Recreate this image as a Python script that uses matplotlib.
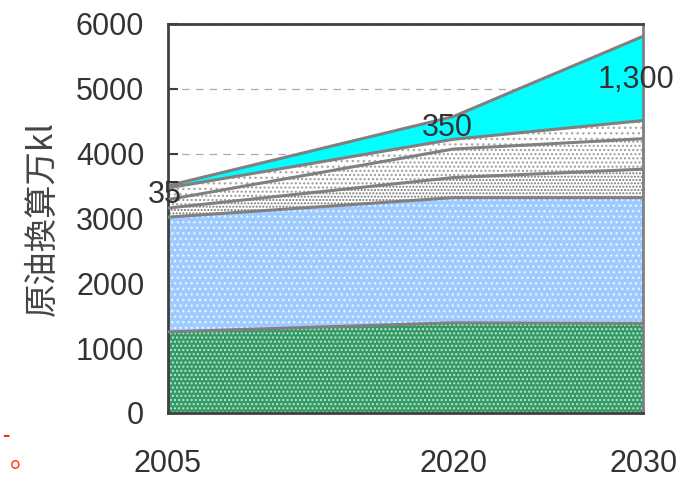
import numpy as np
import matplotlib.pyplot as plt

plt.rcParams['font.family'] = ['Liberation Sans', 'Noto Sans CJK JP', 'DejaVu Sans']
plt.rcParams['hatch.linewidth'] = 1.0

years = [2005, 2020, 2030]
green = [1250, 1390, 1380]
blue = [1770, 1930, 1940]
dense = [140, 310, 440]
medium = [130, 440, 470]
sparse = [180, 150, 280]
cyan = [35, 350, 1300]
cyan_labels = ['35', '350', '1,300']

layers = [green, blue, dense, medium, sparse, cyan]
faces = ['#339966', '#9ecbff', 'white', 'white', 'white', '#00ffff']
hatches = ['....', '...', '.....', '....', '...', None]
hatch_cols = ['#bfe6cc', '#e6f2ff', '#777777', '#999999', '#aaaaaa', '#00ffff']

TXT = '#333333'
FS = 22

fig = plt.figure(figsize=(6.77, 4.79), dpi=100)
ax = fig.add_axes([0.248, 0.138, 0.702, 0.812])

tops = np.cumsum(np.array(layers), axis=0)
bottom = np.zeros(len(years))
for i, top in enumerate(tops):
    ax.fill_between(years, bottom, top, facecolor=faces[i], hatch=hatches[i],
                    edgecolor=hatch_cols[i], linewidth=0, zorder=2)
    ax.plot(years, top, color='#808080', lw=2.2, zorder=3)
    bottom = top

ax.set_xlim(2005, 2030)
ax.set_ylim(0, 6000)
ax.set_yticks(range(0, 6001, 1000))
ax.set_xticks(years)
ax.yaxis.grid(True, linestyle=(0, (6, 5)), color='#aaaaaa', lw=0.9, zorder=1)
ax.set_axisbelow(True)

ax.tick_params(axis='y', direction='in', length=7, width=1.5, color='#404040',
               labelsize=FS, labelcolor=TXT, pad=17)
ax.tick_params(axis='x', direction='in', length=7, width=1, color='#404040',
               labelsize=FS, labelcolor=TXT, pad=26)
for s in ['left', 'bottom', 'top']:
    ax.spines[s].set_color('#404040')
    ax.spines[s].set_linewidth(2)
ax.spines['right'].set_color('#808080')
ax.spines['right'].set_linewidth(2)

ax.set_ylabel('原油換算万kl', fontsize=24, color='#444444', labelpad=12,
              family=['Noto Sans CJK JP', 'DejaVu Sans'])

label_pos = [(2004.85, 3360), (2019.7, 4400), (2029.6, 5140)]
for (x, y), t in zip(label_pos, cyan_labels):
    ax.text(x, y, t, ha='center', va='center', fontsize=FS, color=TXT, zorder=5)

fig.text(0.003, 0.08, '-', color='#ff3300', fontsize=16, fontweight='bold')
fig.text(0.014, 0.025, '。', color='#ff3300', fontsize=20,
         family=['Noto Sans CJK JP', 'DejaVu Sans'])

fig.savefig('out.png', dpi=100)
